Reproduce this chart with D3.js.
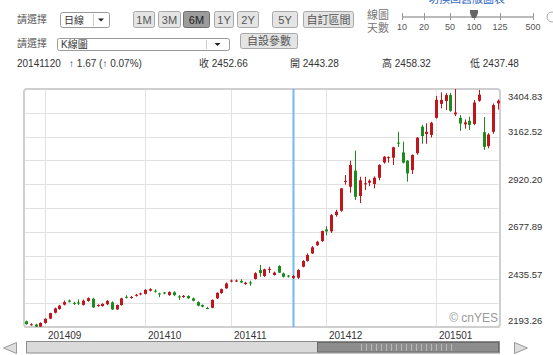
<!DOCTYPE html>
<html>
<head>
<meta charset="utf-8">
<script src="https://d3js.org/d3.v7.min.js"></script>
<style>
body { margin: 0; background: #fff; }
svg text { font-family: "Liberation Sans", Arial, "Noto Sans CJK TC", sans-serif; }
</style>
</head>
<body>
<div id="chart"></div>
<script>
// trading days shown in the 6M window
const dates = [
    "20140826", "20140827", "20140828", "20140829",
    "20140901", "20140902", "20140903", "20140904", "20140905", "20140909", "20140910", "20140911", "20140912",
    "20140915", "20140916", "20140917", "20140918", "20140919", "20140922", "20140923", "20140924", "20140925",
    "20140926", "20140929", "20140930",
    "20141008", "20141009", "20141010", "20141013", "20141014", "20141015", "20141016", "20141017", "20141020",
    "20141021", "20141022", "20141023", "20141024", "20141027", "20141028", "20141029", "20141030", "20141031",
    "20141103", "20141104", "20141105", "20141106", "20141107", "20141110", "20141111", "20141112", "20141113",
    "20141114", "20141117", "20141118", "20141119", "20141120", "20141121", "20141124", "20141125", "20141126",
    "20141127", "20141128",
    "20141201", "20141202", "20141203", "20141204", "20141205", "20141208", "20141209", "20141210", "20141211",
    "20141212", "20141215", "20141216", "20141217", "20141218", "20141219", "20141222", "20141223", "20141224",
    "20141225", "20141226", "20141229", "20141230", "20141231",
    "20150105", "20150106", "20150107", "20150108", "20150109", "20150112", "20150113", "20150114", "20150115",
    "20150116", "20150119", "20150120", "20150121", "20150122"
];

const opens = [
    2222, 2205, 2206, 2195,
    2214, 2236, 2266, 2285, 2307, 2328, 2316, 2318, 2306, 2326, 2337, 2302, 2300, 2309, 2319, 2283, 2305, 2347, 2342, 2352, 2359,
    2362, 2378, 2378, 2364, 2369, 2356, 2370, 2349, 2346, 2351, 2339, 2320, 2305, 2290, 2291, 2339, 2366, 2390,
    2425, 2428, 2428, 2412, 2420, 2438, 2483, 2453, 2486, 2458, 2504, 2466, 2455, 2443.28, 2444, 2500, 2530, 2568, 2610, 2631,
    2690, 2680, 2763, 2785, 2932, 2907, 2989, 2860, 2920, 2928, 2921, 2953, 3031, 3057, 3055, 3132, 3082, 3040, 2992, 3078, 3213, 3176, 3171,
    3258, 3329, 3344, 3374, 3276, 3258, 3225, 3243, 3227, 3345, 3185, 3114, 3187, 3332
];

const highs = [
    2226, 2212, 2210, 2217,
    2237, 2266, 2292, 2306, 2328, 2333, 2322, 2334, 2333, 2344, 2342, 2309, 2314, 2330, 2324, 2308, 2342, 2355, 2351, 2362, 2368,
    2386, 2391, 2385, 2368, 2372, 2375, 2375, 2356, 2356, 2355, 2343, 2324, 2308, 2296, 2334, 2370, 2389, 2420,
    2435, 2435, 2437, 2423, 2429, 2472, 2509, 2490, 2500, 2475, 2507, 2470, 2458, 2458.32, 2488, 2533, 2568, 2605, 2632, 2684,
    2706, 2768, 2790, 2900, 2967, 3040, 3091, 2958, 2958, 2945, 2960, 3022, 3064, 3062, 3111, 3187, 3137, 3043, 3072, 3160, 3222, 3230, 3238,
    3369, 3388, 3384, 3385, 3404.83, 3272, 3250, 3264, 3349, 3400, 3262, 3180, 3331, 3352
];

const lows = [
    2205, 2200, 2193.26, 2194,
    2210, 2233, 2262, 2281, 2303, 2318, 2305, 2305, 2302, 2322, 2290, 2296, 2297, 2305, 2280, 2280, 2302, 2338, 2337, 2348, 2355,
    2359, 2374, 2368, 2345, 2360, 2352, 2350, 2331, 2342, 2336, 2324, 2298, 2293, 2284, 2289, 2336, 2362, 2388,
    2421, 2423, 2418, 2408, 2403, 2435, 2449, 2448, 2467, 2455, 2468, 2445, 2445, 2437.48, 2438, 2497, 2526, 2565, 2605, 2626,
    2660, 2672, 2755, 2780, 2918, 2877, 2840, 2824, 2890, 2910, 2899, 2940, 3025, 3030, 3018, 3110, 3026, 2933, 2972, 3070, 3126, 3126, 3158,
    3254, 3306, 3298, 3289, 3267, 3192, 3203, 3196, 3221, 3340, 3095, 3103, 3177, 3300
];

const closes = [
    2208, 2207, 2195, 2214,
    2235, 2264, 2288, 2302, 2320, 2322, 2314, 2315, 2327, 2340, 2293, 2305, 2311, 2326, 2283, 2305, 2339, 2344, 2346, 2357, 2364,
    2382, 2386, 2375, 2361, 2365, 2371, 2356, 2345, 2352, 2340, 2327, 2302, 2297, 2288, 2331, 2367, 2386, 2415,
    2430, 2430, 2420, 2419, 2417, 2467, 2468, 2487, 2489, 2470, 2470, 2449, 2450, 2452.66, 2483, 2529, 2560, 2599, 2627, 2682,
    2680, 2763, 2780, 2899, 2937, 3018, 2856, 2940, 2925, 2938, 2953, 3018, 3060, 3058, 3108, 3128, 3030, 2975, 3069, 3157, 3165, 3187, 3233,
    3350, 3349, 3374, 3294, 3285, 3229, 3235, 3222, 3336, 3376, 3110, 3173, 3323, 3345
];

// axis labels
const yTicks = [2193.26, 2435.57, 2677.89, 2920.20, 3162.52, 3404.83];
const monthDates = ["20140901", "20141008", "20141103", "20141201", "20150105"];
const monthLabels = ["201409", "201410", "201411", "201412", "201501"];
const selectedDate = "20141120";

// header texts
const periodButtons = ["1M", "3M", "6M", "1Y", "2Y", "5Y", "自訂區間"];
const activePeriod = "6M";
const dayOptions = ["10", "20", "50", "100", "125", "500"];
const activeDays = "100";
const changeText = "20141120   ↑ 1.67 (↑ 0.07%)";
const quoteLabels = ["收 2452.66", "開 2443.28", "高 2458.32", "低 2437.48"];

const W = 553, H = 355;
const plot = {left: 24, right: 500, top: 89, bottom: 327};

const svg = d3.select("#chart").append("svg")
    .attr("width", W)
    .attr("height", H);

// ---------- header ----------
const head = svg.append("g");

head.append("text").attr("x", 428).attr("y", 3).attr("font-size", 11)
    .attr("fill", "#3366cc").text("切換回舊版圖表");

head.selectAll("text.lbl").data([23, 47]).enter().append("text")
    .attr("class", "lbl")
    .attr("x", 17).attr("y", d => d)
    .attr("font-size", 10).attr("fill", "#555")
    .text("請選擇");

// select boxes
function selectBox(x, y, w, h, label, divX) {
    head.append("rect").attr("x", x + 0.5).attr("y", y + 0.5).attr("width", w).attr("height", h)
        .attr("rx", 2).attr("fill", "#fff").attr("stroke", "#9a9a9a");
    head.append("line").attr("x1", divX + 0.5).attr("x2", divX + 0.5).attr("y1", y + 2).attr("y2", y + h - 1)
        .attr("stroke", "#ccc");
    let ax = divX + (x + w - divX) / 2, ay = y + h / 2;
    head.append("path").attr("d", `M${ax - 3},${ay - 1}L${ax + 3},${ay - 1}L${ax},${ay + 2}Z`).attr("fill", "#222");
    head.append("text").attr("x", x + 4).attr("y", y + h / 2 + 4).attr("font-size", 10).attr("fill", "#333").text(label);
}
selectBox(60, 12, 49, 15, "日線", 93);
selectBox(57, 38, 172, 12, "K線圖", 206);

// period buttons
const btnX = [133, 158, 183, 214, 237, 272, 303];
const btnW = [21, 22, 26, 19, 21, 25, 50];
const btns = head.selectAll("g.btn").data(periodButtons).enter().append("g").attr("class", "btn");
btns.append("rect")
    .attr("x", (d, i) => btnX[i] + 0.5).attr("y", 11.5)
    .attr("width", (d, i) => btnW[i]).attr("height", 16).attr("rx", 2)
    .attr("fill", d => d === activePeriod ? "#9c9c9c" : "#e4e4e4")
    .attr("stroke", d => d === activePeriod ? "#6f6f6f" : "#a8a8a8");
btns.append("text")
    .attr("x", (d, i) => btnX[i] + btnW[i] / 2 + 0.5).attr("y", 23.5)
    .attr("text-anchor", "middle").attr("font-size", 11)
    .attr("fill", d => d === activePeriod ? "#222" : "#555")
    .text(d => d);

head.append("rect").attr("x", 240.5).attr("y", 33.5).attr("width", 57).attr("height", 15).attr("rx", 2)
    .attr("fill", "#e4e4e4").attr("stroke", "#a8a8a8");
head.append("text").attr("x", 269).attr("y", 45).attr("text-anchor", "middle")
    .attr("font-size", 11).attr("fill", "#555").text("自設參數");

// days slider
head.append("text").attr("x", 367).attr("y", 19).attr("font-size", 11).attr("fill", "#777").text("線圖");
head.append("text").attr("x", 367).attr("y", 32).attr("font-size", 11).attr("fill", "#777").text("天數");
const sliderPos = [402, 424, 450, 474, 500, 533];
head.append("line").attr("x1", 402).attr("x2", 533).attr("y1", 17).attr("y2", 17)
    .attr("stroke", "#bbb").attr("stroke-width", 2);
head.selectAll("line.stk").data(dayOptions).enter().append("line").attr("class", "stk")
    .attr("x1", (d, i) => sliderPos[i] + 0.5).attr("x2", (d, i) => sliderPos[i] + 0.5)
    .attr("y1", 13).attr("y2", 20).attr("stroke", "#999");
head.selectAll("text.stl").data(dayOptions).enter().append("text").attr("class", "stl")
    .attr("x", (d, i) => sliderPos[i]).attr("y", 30).attr("text-anchor", "middle")
    .attr("font-size", 9).attr("fill", "#555").text(d => d);
let tx = sliderPos[dayOptions.indexOf(activeDays)];
head.append("path").attr("d", `M${tx - 4},10L${tx + 4},10L${tx + 4},13L${tx + 2},18L${tx - 2},18L${tx - 4},13Z`)
    .attr("fill", "#666");
head.append("circle").attr("cx", 552).attr("cy", 17).attr("r", 5).attr("fill", "none").attr("stroke", "#aaa");

// quote row
head.append("text").attr("x", 17).attr("y", 67).attr("font-size", 10).attr("fill", "#333")
    .attr("xml:space", "preserve").text(changeText);
const quoteX = [199, 290, 382, 470];
head.selectAll("text.q").data(quoteLabels).enter().append("text").attr("class", "q")
    .attr("x", (d, i) => quoteX[i]).attr("y", 67).attr("font-size", 10).attr("fill", "#333")
    .text(d => d);

// ---------- chart ----------
const data = dates.map((d, i) => ({date: d, o: opens[i], h: highs[i], l: lows[i], c: closes[i]}));

const x = d3.scaleBand().domain(dates).range([plot.left, plot.right]).paddingInner(0.4).paddingOuter(0.12);
const y = d3.scaleLinear().domain([yTicks[0], yTicks[yTicks.length - 1]]).range([plot.bottom, plot.top]);
const cx = d => Math.round(x(d) + x.bandwidth() / 2);

const chart = svg.append("g");

// horizontal grid: every tick plus the midpoints
const gridVals = yTicks.concat(d3.pairs(yTicks).map(p => (p[0] + p[1]) / 2));
chart.selectAll("line.hg").data(gridVals).enter().append("line").attr("class", "hg")
    .attr("x1", plot.left).attr("x2", plot.right)
    .attr("y1", d => Math.round(y(d)) + 0.5).attr("y2", d => Math.round(y(d)) + 0.5)
    .attr("stroke", "#e2e2e2");

chart.selectAll("line.vg").data(monthDates).enter().append("line").attr("class", "vg")
    .attr("x1", d => cx(d) + 0.5).attr("x2", d => cx(d) + 0.5)
    .attr("y1", plot.top).attr("y2", plot.bottom)
    .attr("stroke", "#e2e2e2");

chart.append("rect")
    .attr("x", plot.left).attr("y", plot.top)
    .attr("width", plot.right - plot.left).attr("height", plot.bottom - plot.top)
    .attr("rx", 3).attr("fill", "none").attr("stroke", "#cfcfcf").attr("stroke-width", 2);

// selected day marker
chart.append("line")
    .attr("x1", cx(selectedDate) + 0.5).attr("x2", cx(selectedDate) + 0.5)
    .attr("y1", plot.top).attr("y2", plot.bottom)
    .attr("stroke", "#6cbcef").attr("stroke-width", 2);

// candles
const upCol = "#bf151d", downCol = "#1d8a1d";
const candles = chart.selectAll("g.candle").data(data).enter().append("g").attr("class", "candle");
candles.append("line")
    .attr("x1", d => cx(d.date) + 0.5).attr("x2", d => cx(d.date) + 0.5)
    .attr("y1", d => y(d.h)).attr("y2", d => y(d.l))
    .attr("stroke", d => d.c >= d.o ? upCol : downCol);
candles.append("rect")
    .attr("x", d => cx(d.date) - 1).attr("width", 3)
    .attr("y", d => y(Math.max(d.o, d.c)))
    .attr("height", d => Math.max(1, Math.abs(y(d.o) - y(d.c))))
    .attr("fill", d => d.c >= d.o ? upCol : downCol);

// price labels on the right
chart.selectAll("text.yl").data(yTicks).enter().append("text").attr("class", "yl")
    .attr("x", 508)
    .attr("y", d => Math.min(320, Math.max(96, y(d) - 5)) + 3.5)
    .attr("font-size", 9.5).attr("fill", "#333")
    .text(d => d.toFixed(2));

// month labels
chart.selectAll("text.xl").data(monthDates).enter().append("text").attr("class", "xl")
    .attr("x", d => cx(d) + 3).attr("y", 339)
    .attr("font-size", 10).attr("fill", "#333")
    .text((d, i) => monthLabels[i]);

chart.append("text").attr("x", 498).attr("y", 322).attr("text-anchor", "end")
    .attr("font-size", 12).attr("fill", "#999").text("© cnYES");

// ---------- scrollbar ----------
const sb = svg.append("g");
sb.append("path").attr("d", "M3.5,348L16.5,342.5L16.5,353.5Z").attr("fill", "#ddd").attr("stroke", "#999");
sb.append("path").attr("d", "M527.5,348L514.5,342.5L514.5,353.5Z").attr("fill", "#ddd").attr("stroke", "#999");
sb.append("rect").attr("x", 26.5).attr("y", 341.5).attr("width", 473).attr("height", 11.5)
    .attr("fill", "#dadada").attr("stroke", "#8c8c8c");
sb.append("rect").attr("x", 317.5).attr("y", 342.5).attr("width", 181).attr("height", 9.5)
    .attr("fill", "#8d8d8d").attr("stroke", "#6a6a6a");
sb.selectAll("line.grip").data(d3.range(19)).enter().append("line").attr("class", "grip")
    .attr("x1", d => 361.5 + d * 5).attr("x2", d => 361.5 + d * 5)
    .attr("y1", 344).attr("y2", 351).attr("stroke", "#b8b8b8");
</script>
</body>
</html>
